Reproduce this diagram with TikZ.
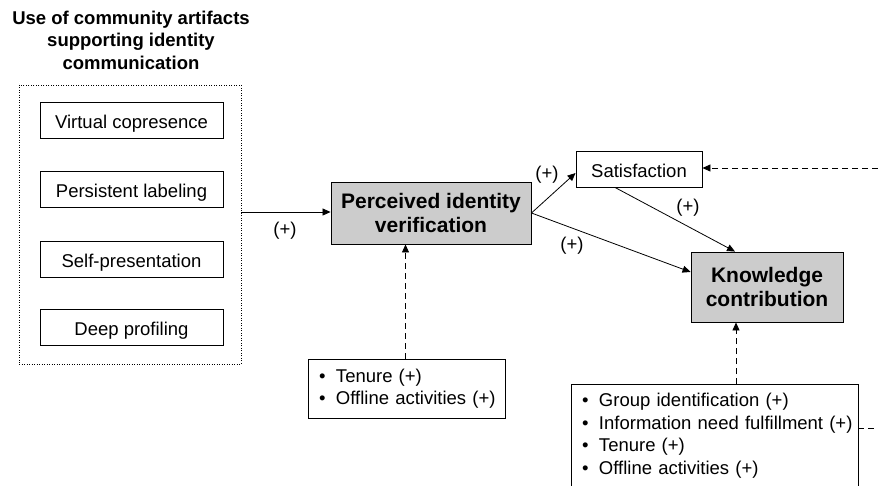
\documentclass[tikz,border=0pt]{standalone}
\usepackage{fontspec}
\setmainfont{Liberation Sans}
\usetikzlibrary{arrows.meta,positioning}

\newcommand{\itm}[1]{\mbox{\makebox[22pt][l]{\hspace{5pt}\textbullet}#1}}

\begin{document}
\begin{tikzpicture}[x=1pt,y=1pt]
\tikzstyle{every node}+=[inner sep=0pt, font=\fontsize{18.5}{22.5}\selectfont]
\tikzstyle{artbox}=[draw, line width=0.9pt, minimum width=183pt, minimum height=36pt, text height=16pt, text depth=0pt]
\tikzstyle{keybox}=[draw, line width=0.9pt, fill=black!20, align=center, font=\fontsize{21}{24.5}\selectfont\bfseries]
\tikzstyle{listbox}=[draw, line width=0.9pt, align=left, inner xsep=6pt]
\tikzstyle{arr}=[line width=0.8pt, -{Triangle[length=8pt,width=7pt]}]
\tikzstyle{darr}=[arr, dash pattern=on 6pt off 4pt]
\useasboundingbox (0,0) rectangle (878,-485);
\clip (0,0) rectangle (878,-485);
% artifacts
\node [align=center, font=\fontsize{18.5}{22.5}\selectfont\bfseries] (title) at (131,-40) {Use of community artifacts\\supporting identity\\communication};
\node [draw, line width=0.8pt, dash pattern=on 1pt off 1.5pt, minimum width=222pt, minimum height=279pt] (art) at (130,-224.5) {};
\node [artbox] (vc) at (131.5,-120) {Virtual copresence};
\node [artbox] (pl) at (131.5,-189) {Persistent labeling};
\node [artbox] (sp) at (131.5,-259) {Self-presentation};
\node [artbox] (dp) at (131.5,-327.5) {Deep profiling};
% constructs
\node [keybox, minimum width=200pt, minimum height=62pt] (piv) at (431,-213) {Perceived identity\\verification};
\node [artbox, minimum width=126pt] (sat) at (639,-169) {Satisfaction};
\node [keybox, minimum width=152pt, minimum height=70pt] (kc) at (767,-287) {Knowledge\\contribution};
% controls
\node [listbox, text width=185pt, minimum height=59pt] (ctl1) at (406.5,-388.5) {\itm{Tenure (+)}\\\itm{Offline activities (+)}};
\node [listbox, text width=275pt, anchor=north, minimum height=103pt] (ctl2) at (714.5,-384) {\itm{Group identification (+)}\\\itm{Information need fulfillment (+)}\\\itm{Tenure (+)}\\\itm{Offline activities (+)}};
\coordinate (rim1) at (878,-168);
\coordinate (rim2) at (878,-428);
% paths
\draw [arr] (art.east |- 0,-212) -- (piv.west |- 0,-212);
\draw (285,-231) node {(+)};
\draw [arr] (piv.east) -- ([yshift=-4pt]sat.west);
\draw (547,-175) node {(+)};
\draw [arr] (piv.east) -- ([yshift=15pt]kc.west);
\draw (572,-246) node {(+)};
\draw [arr] ([xshift=-24pt]sat.south) -- ([xshift=-32pt]kc.north);
\draw (688,-208) node {(+)};
\draw [darr] (rim1) -- (sat.east |- rim1);
\draw [darr] ([xshift=-1pt]ctl1.north) -- ([xshift=-1pt]piv.south -| ctl1.north);
\draw [darr] ([xshift=-31pt]kc.south |- ctl2.north) -- ([xshift=-31pt]kc.south);
\draw [line width=0.8pt, dash pattern=on 6pt off 4pt] (ctl2.east |- rim2) -- (rim2);
\end{tikzpicture}
\end{document}
